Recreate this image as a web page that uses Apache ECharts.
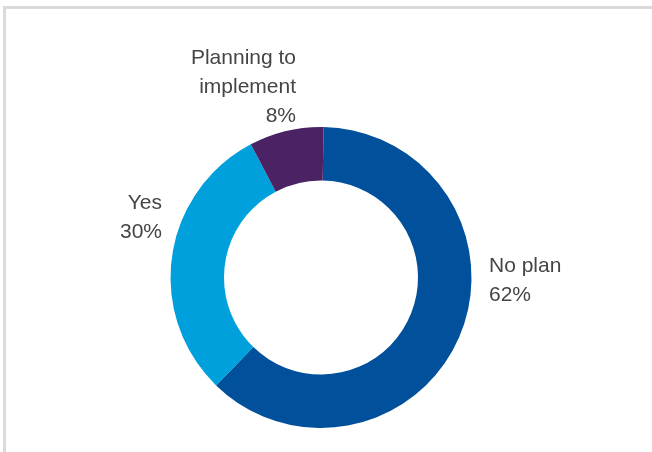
<!DOCTYPE html>
<html>
<head>
<meta charset="utf-8">
<script src="https://cdn.jsdelivr.net/npm/echarts@6/dist/echarts.min.js"></script>
<style>
  html, body { margin: 0; padding: 0; background: #ffffff; }
  #chart { width: 652px; height: 452px; }
</style>
</head>
<body>
<div id="chart"></div>
<script>
// Survey responses: share of firms by plan status (percent)
const categories = ['No plan', 'Yes', 'Planning to\nimplement'];
const values = [62, 30, 8];
const colors = ['#00509B', '#00A0DD', '#4B2364'];

// Where each label sits and how it is anchored
const labelSpots = [
  { x: 489, y: 281, align: 'left' },
  { x: 162, y: 218, align: 'right' },
  { x: 296, y: 87, align: 'right' }
];

const chart = echarts.init(document.getElementById('chart'), null, { renderer: 'canvas' });

chart.setOption({
  backgroundColor: '#ffffff',
  animation: false,
  graphic: [
    // frame lines along the top and left edges
    { type: 'line', shape: { x1: 3, y1: 7.5, x2: 652, y2: 7.5 }, style: { stroke: '#dadada', lineWidth: 3 } },
    { type: 'line', shape: { x1: 4.5, y1: 6, x2: 4.5, y2: 452 }, style: { stroke: '#dadada', lineWidth: 3 } }
  ],
  series: [{
    type: 'pie',
    center: [321, 277.5],
    radius: [97, 150.5],
    startAngle: 89,
    clockwise: true,
    avoidLabelOverlap: false,
    label: {
      show: true,
      position: 'outside',
      formatter: p => p.name + '\n' + p.value + '%',
      fontFamily: 'Liberation Sans, Arial, sans-serif',
      fontSize: 21,
      lineHeight: 29,
      color: '#454545'
    },
    labelLine: { show: false },
    labelLayout: p => {
      const s = labelSpots[p.dataIndex];
      return { x: s.x, y: s.y, align: s.align, verticalAlign: 'middle' };
    },
    emphasis: { disabled: true },
    data: categories.map((c, i) => ({
      name: c,
      value: values[i],
      itemStyle: { color: colors[i] },
      label: { align: labelSpots[i].align }
    }))
  }]
});
</script>
</body>
</html>
